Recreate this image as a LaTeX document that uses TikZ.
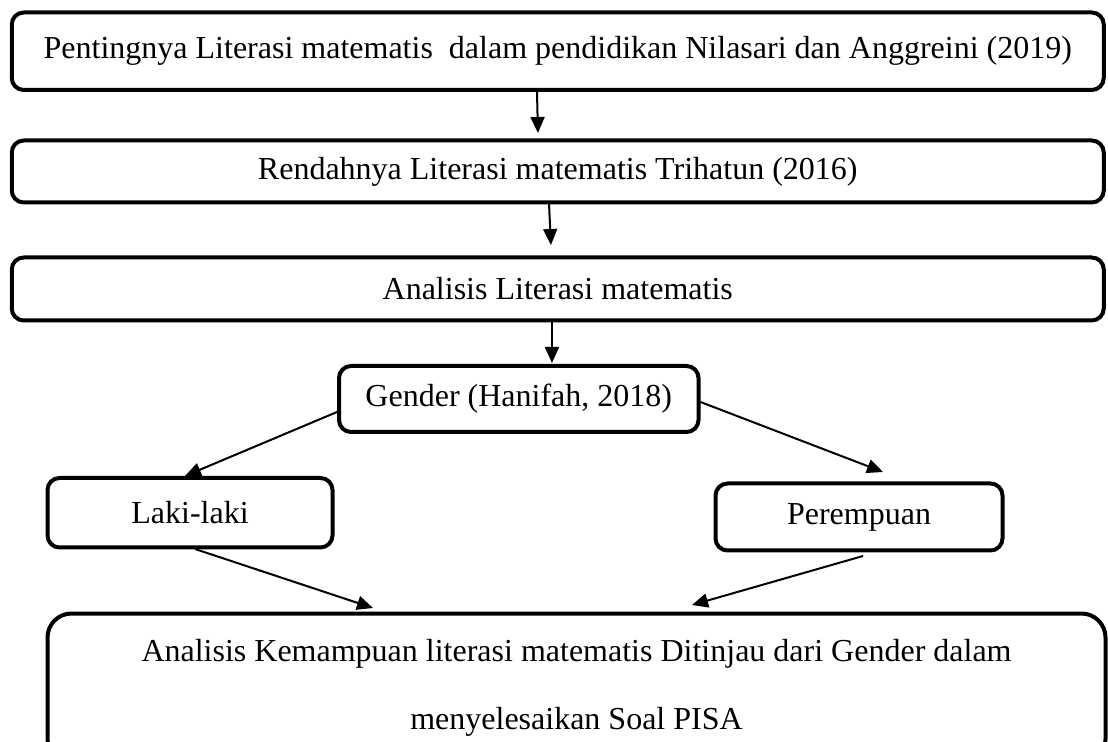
\documentclass[tikz,border=0pt]{standalone}
\usepackage{fontspec}
\setmainfont{Liberation Serif}
\usetikzlibrary{arrows.meta}

\begin{document}
\begin{tikzpicture}[
    x=0.5pt, y=-0.5pt,
    box/.style={rectangle, draw, line width=2pt, rounded corners=6pt, inner sep=0pt, outer sep=0pt, font=\fontsize{16}{19}\selectfont},
    bigbox/.style={box, rounded corners=12pt, align=center, font=\fontsize{16}{34}\selectfont},
    arrow/.style={line width=1pt, -{Triangle[length=8pt, width=7pt]}}
]
\useasboundingbox (0,0) rectangle (1108,742);

% Define nodes from top to bottom
\node [box, minimum width=546pt, minimum height=38.75pt] (penting) at (557.75,51.25) {Pentingnya Literasi matematis\ \ dalam pendidikan Nilasari dan Anggreini (2019)};
\node [box, minimum width=546pt, minimum height=31pt] (rendah) at (557.75,171.5) {Rendahnya Literasi matematis Trihatun (2016)};
\node [box, minimum width=546pt, minimum height=31.5pt] (analisis) at (557.75,289) {Analisis Literasi matematis};
\node [box, minimum width=179.75pt, minimum height=33pt] (gender) at (518.75,399) {Gender (Hanifah, 2018)};
\node [box, minimum width=142.5pt, minimum height=34.75pt] (laki) at (190,512.75) {Laki-laki};
\node [box, minimum width=143.5pt, minimum height=33.5pt] (perempuan) at (859,517) {Perempuan};
\node [bigbox, minimum width=529pt, minimum height=74.75pt] (hasil) at (576.5,688.25) {Analisis Kemampuan literasi matematis Ditinjau dari Gender dalam\\ menyelesaikan Soal PISA};

% Draw arrows
\draw [arrow] ([xshift=-10.4pt]penting.south) -- ([xshift=-9.9pt, yshift=3.75pt]rendah.north);
\draw [arrow] ([xshift=-4.4pt]rendah.south) -- ([xshift=-3.4pt, yshift=6.25pt]analisis.north);
\draw [arrow] ([xshift=-2.9pt]analisis.south) -- ([xshift=16.6pt, yshift=1.5pt]gender.north);
\draw [arrow] ([xshift=-1pt, yshift=-6.5pt]gender.west) -- ([xshift=-2.5pt, yshift=1pt]laki.north);
\draw [arrow] ([xshift=1pt, yshift=-1.5pt]gender.east) -- ([xshift=12pt, yshift=5.75pt]perempuan.north);
\draw [arrow] ([xshift=2.5pt, yshift=-0.75pt]laki.south) -- ([xshift=-101.75pt, yshift=2.75pt]hasil.north);
\draw [arrow] ([xshift=2pt, yshift=-2.75pt]perempuan.south) -- ([xshift=57.75pt, yshift=4.25pt]hasil.north);

\end{tikzpicture}
\end{document}
